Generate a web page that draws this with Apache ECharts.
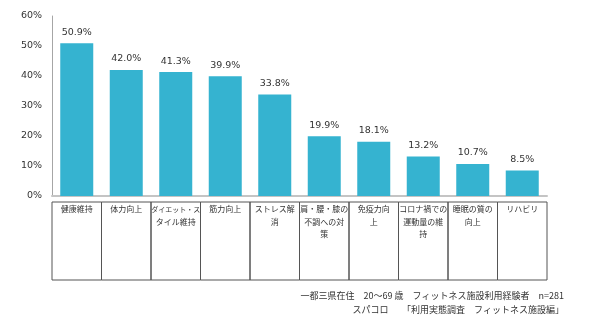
<!DOCTYPE html>
<html>
<head>
<meta charset="utf-8">
<script src="https://cdn.jsdelivr.net/npm/echarts@6/dist/echarts.min.js"></script>
<style>
  html, body { margin: 0; padding: 0; background: #fff; }
  #chart { width: 590px; height: 327px; }
</style>
</head>
<body>
<div id="chart"></div>
<script>
// Reasons for using fitness facilities (share of respondents, %)
const categories = [
  '健康維持',
  '体力向上',
  'ダイエット・ス\nタイル維持',
  '筋力向上',
  'ストレス解\n消',
  '肩・腰・膝の\n不調への対\n策',
  '免疫力向\n上',
  'コロナ禍での\n運動量の維\n持',
  '睡眠の質の\n向上',
  'リハビリ'
];
const values = [50.9, 42.0, 41.3, 39.9, 33.8, 19.9, 18.1, 13.2, 10.7, 8.5];
const noteLines = [
  '一都三県在住　20～69 歳　フィットネス施設利用経験者　n=281',
  'スパコロ　　「利用実態調査　フィットネス施設編」'
];

const cjk = '"Noto Sans CJK JP", sans-serif';
const latin = '"DejaVu Sans", sans-serif';

const chart = echarts.init(document.getElementById('chart'), null, { renderer: 'canvas' });

const gridLeft = 52, gridRight = 43;
const cellWidth = (590 - gridLeft - gridRight) / categories.length;

// survey note, one right-aligned title per line
const noteTitles = noteLines.map(function (line, i) {
  return {
    text: line,
    right: 26,
    top: 291 + i * 14,
    padding: 0,
    textStyle: {
      fontFamily: cjk,
      fontSize: 9,
      fontWeight: 'normal',
      color: '#333'
    }
  };
});

chart.setOption({
  animation: false,
  backgroundColor: '#ffffff',
  title: noteTitles,
  grid: { left: gridLeft, right: gridRight, top: 16, bottom: 131 },
  xAxis: {
    type: 'category',
    data: categories,
    axisTick: { show: false },
    axisLine: { lineStyle: { color: '#c4c4c4', width: 2 } },
    axisLabel: {
      interval: 0,
      margin: 6,
      width: cellWidth,
      height: 77,
      padding: [1, 0, 0, 0],
      align: 'center',
      verticalAlign: 'top',
      borderColor: '#555',
      borderWidth: 1,
      fontFamily: cjk,
      fontSize: 8,
      lineHeight: 12.5,
      color: '#333',
      // lines too long for a cell are set in a tighter size
      formatter: function (v) {
        return v.split('\n').map(function (line) {
          return line.length > 6 ? '{tight|' + line + '}' : line;
        }).join('\n');
      },
      rich: {
        tight: { fontFamily: cjk, fontSize: 7, lineHeight: 12.5, color: '#333' }
      }
    }
  },
  yAxis: {
    type: 'value',
    min: 0,
    max: 60,
    interval: 10,
    axisLine: { show: true, lineStyle: { color: '#a6a6a6', width: 1 } },
    axisTick: { show: false },
    splitLine: { show: false },
    axisLabel: {
      formatter: '{value}%',
      margin: 10,
      fontFamily: latin,
      fontSize: 9.5,
      color: '#333'
    }
  },
  series: [{
    type: 'bar',
    data: values,
    barWidth: 33,
    itemStyle: { color: '#35b3d0' },
    label: {
      show: true,
      position: 'top',
      distance: 6,
      formatter: function (p) { return p.value.toFixed(1) + '%'; },
      fontFamily: latin,
      fontSize: 9.5,
      color: '#333'
    }
  }]
});
</script>
</body>
</html>
